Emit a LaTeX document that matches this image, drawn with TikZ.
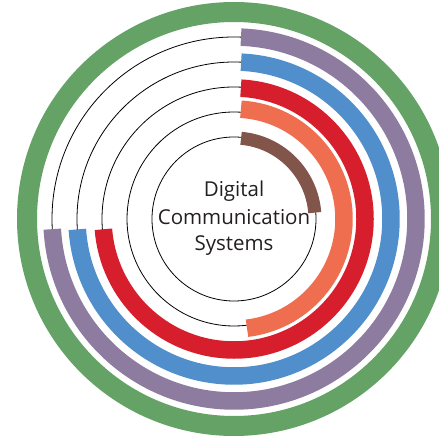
\documentclass[tikz,border=0pt]{standalone}
\usepackage{fontspec}
\setmainfont{Open Sans}
\definecolor{ringgreen}{HTML}{64A266}
\definecolor{ringpurple}{HTML}{8E7CA0}
\definecolor{ringblue}{HTML}{508FCC}
\definecolor{ringred}{HTML}{D71E2D}
\definecolor{ringorange}{HTML}{F06E50}
\definecolor{ringbrown}{HTML}{82554B}
\definecolor{txt}{HTML}{231F20}
\tikzset{
  thinring/.style={draw=black, line width=0.8pt},
  band/.style={line width=17.5pt, line cap=butt},
  label text/.style={text=txt, font=\fontsize{20.5}{27}\selectfont, anchor=base},
}
\begin{document}
\begin{tikzpicture}[x=1pt,y=1pt]
\useasboundingbox (0,0) rectangle (439,-438);
\coordinate (C) at (234,-219);
% outer green ring
\draw[ringgreen, line width=20pt] (C) circle[radius=207];
% thin circles
\foreach \r in {82,107,132,157,182}
  \draw[thinring] (C) circle[radius=\r];
% coloured bands
\draw[band, ringpurple] ([shift={(87.8:182)}]C) arc[start angle=87.8, end angle=-176.8, radius=182];
\draw[band, ringblue] ([shift={(87.4:157)}]C) arc[start angle=87.4, end angle=-176.2, radius=157];
\draw[band, ringred] ([shift={(87:131)}]C) arc[start angle=87, end angle=-175.5, radius=131];
\draw[band, ringorange] ([shift={(86.4:110)}]C) arc[start angle=86.4, end angle=-83.2, radius=110];
\draw[band, ringbrown, line width=13pt] ([shift={(85:81)}]C) arc[start angle=85, end angle=4.5, radius=81];
% title
\node[label text] (t1) at (234,-196.7) {Digital};
\node[label text] (t2) at (234,-224.3) {Communication};
\node[label text] (t3) at (234,-251) {Systems};
\end{tikzpicture}
\end{document}
